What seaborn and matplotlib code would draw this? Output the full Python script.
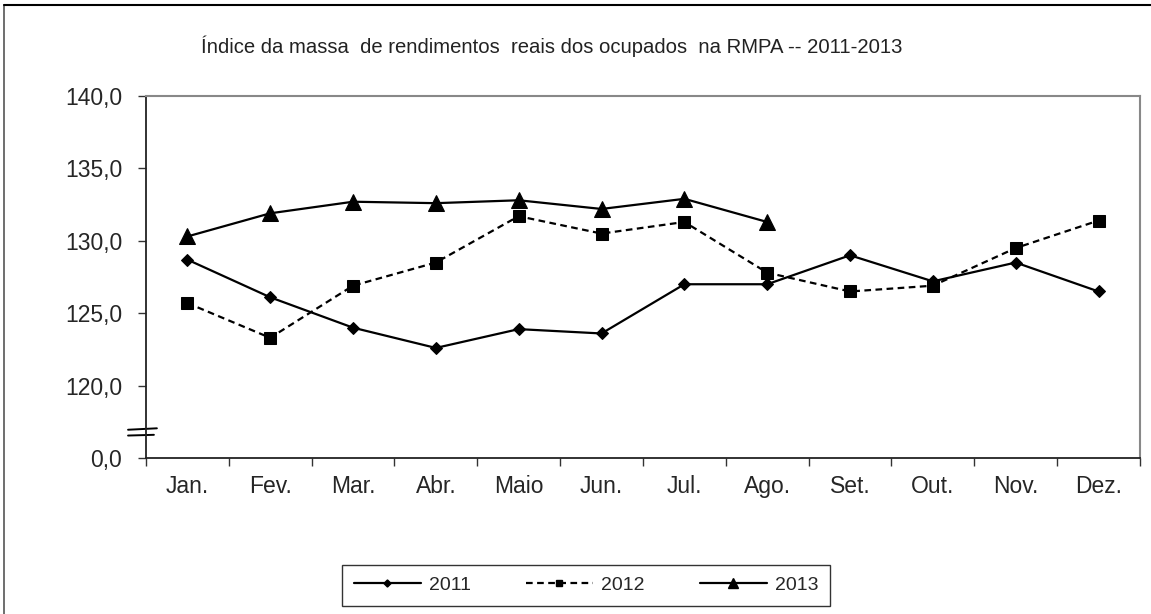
import numpy as np
import pandas as pd
import seaborn as sns
import matplotlib.pyplot as plt
from matplotlib.lines import Line2D
from matplotlib.ticker import FixedLocator

sns.set_style('ticks')
plt.rcParams['font.family'] = ['Liberation Sans', 'DejaVu Sans']

meses = ['Jan.', 'Fev.', 'Mar.', 'Abr.', 'Maio', 'Jun.', 'Jul.', 'Ago.',
         'Set.', 'Out.', 'Nov.', 'Dez.']
v2011 = [128.7, 126.1, 124.0, 122.6, 123.9, 123.6, 127.0, 127.0, 129.0, 127.2, 128.5, 126.5]
v2012 = [125.7, 123.3, 126.9, 128.5, 131.7, 130.5, 131.3, 127.8, 126.5, 126.9, 129.5, 131.4]
v2013 = [130.3, 131.9, 132.7, 132.6, 132.8, 132.2, 132.9, 131.3]
yticks = [115, 120, 125, 130, 135, 140]
ylabels = ['0,0', '120,0', '125,0', '130,0', '135,0', '140,0']

series = [
    ('2011', v2011, 'D', 6, ''),
    ('2012', v2012, 's', 8, (3, 2)),
    ('2013', v2013, '^', 11, ''),
]

fig = plt.figure(figsize=(11.51, 6.14), dpi=100)
ax = fig.add_axes([0.1268, 0.2541, 0.8636, 0.5895])

handles = []
for nome, vals, mk, ms, dash in series:
    df = pd.DataFrame({'mes': np.arange(len(vals)), 'valor': vals})
    ls = '-' if dash == '' else (0, dash)
    sns.lineplot(data=df, x='mes', y='valor', ax=ax, color='black', lw=1.6,
                 linestyle=ls, marker=mk, markersize=ms, markeredgecolor='black',
                 markerfacecolor='black', clip_on=False)
    handles.append(Line2D([], [], color='black', lw=1.6, linestyle=ls, marker=mk,
                          markersize=ms * 0.6, label=nome))

ax.set_xlim(-0.5, 11.5)
ax.set_ylim(115, 140)
ax.set_xlabel('')
ax.set_ylabel('')

ax.set_xticks(range(12))
ax.set_xticklabels(meses, fontsize=16.5)
ax.xaxis.set_minor_locator(FixedLocator(np.arange(-0.5, 12, 1)))
ax.tick_params(axis='x', which='major', length=0, pad=12)
ax.tick_params(axis='x', which='minor', length=6, width=1, color='#333333', direction='out')
ax.set_yticks(yticks)
ax.set_yticklabels(ylabels, fontsize=16.5)
ax.tick_params(axis='y', length=6, width=1, color='#333333', direction='out', pad=11)

for s in ['left', 'bottom']:
    ax.spines[s].set_color('#222222')
    ax.spines[s].set_linewidth(1.3)
for s in ['top', 'right']:
    ax.spines[s].set_visible(True)
    ax.spines[s].set_color('#888888')
    ax.spines[s].set_linewidth(1.5)

# quebra do eixo y
tr = ax.get_yaxis_transform()
ax.plot([-0.018, 0.011], [116.95, 117.05], transform=tr, color='black', lw=1.4, clip_on=False)
ax.plot([-0.018, 0.008], [116.55, 116.6], transform=tr, color='black', lw=1.4, clip_on=False)

fig.text(0.479, 0.925, 'Índice da massa  de rendimentos  reais dos ocupados  na RMPA -- 2011-2013',
         ha='center', va='center', fontsize=14.6, color='#222222')

leg = fig.legend(handles=handles, loc='center', bbox_to_anchor=(0.509, 0.047), ncol=3,
                 fontsize=14, handlelength=3.45, columnspacing=2.85, handletextpad=0.4,
                 frameon=True, fancybox=False, edgecolor='black', borderpad=0.6,
                 borderaxespad=0)
leg.get_frame().set_linewidth(1.0)

# borda externa
fig.add_artist(Line2D([0.0035, 0.0035], [0, 0.992], transform=fig.transFigure, color='#555555', lw=1.2))
fig.add_artist(Line2D([0.0035, 1], [0.992, 0.992], transform=fig.transFigure, color='black', lw=1.5))

fig.savefig('out.png', dpi=100, facecolor='white')
